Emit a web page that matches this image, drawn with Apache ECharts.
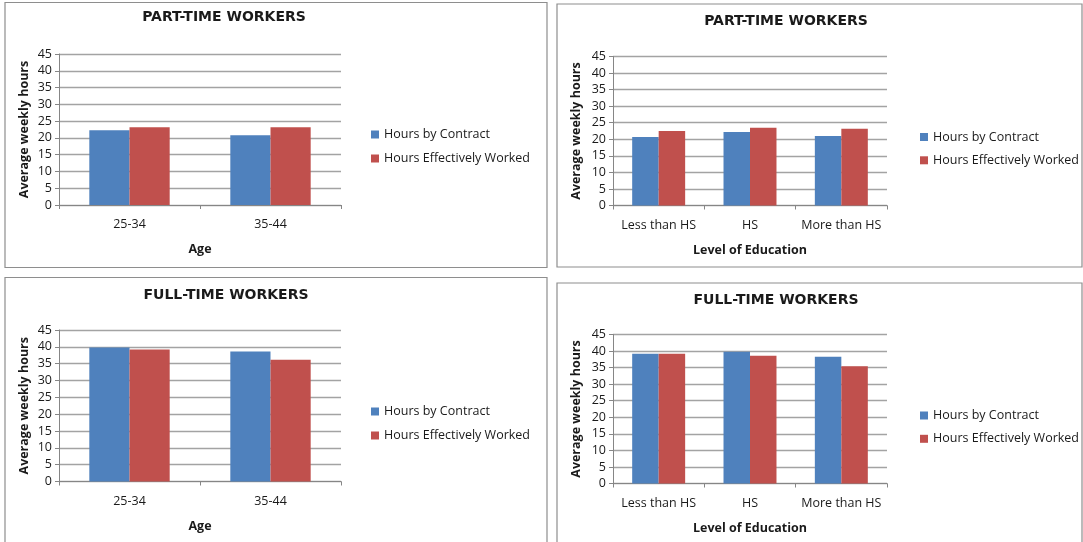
<!DOCTYPE html>
<html>
<head>
<meta charset="utf-8">
<title>Average weekly hours</title>
<script src="https://cdn.jsdelivr.net/npm/echarts@6/dist/echarts.min.js"></script>
<style>
  html, body { margin: 0; padding: 0; background: #ffffff; }
  #chart { width: 1083px; height: 542px; }
</style>
</head>
<body>
<div id="chart"></div>
<script>
// Categories
const ageGroups = ['25-34', '35-44'];
const educationLevels = ['Less than HS', 'HS', 'More than HS'];
const seriesNames = ['Hours by Contract', 'Hours Effectively Worked'];

// Value axis ticks
const yMin = 0;
const yMax = 45;
const yStep = 5;

// Part-time workers by age
const partTimeAgeContract = [22.3, 20.8];
const partTimeAgeWorked = [23.2, 23.2];
// Part-time workers by level of education
const partTimeEduContract = [20.7, 22.2, 21.0];
const partTimeEduWorked = [22.5, 23.5, 23.2];
// Full-time workers by age
const fullTimeAgeContract = [39.8, 38.6];
const fullTimeAgeWorked = [39.2, 36.2];
// Full-time workers by level of education
const fullTimeEduContract = [39.2, 39.8, 38.3];
const fullTimeEduWorked = [39.2, 38.6, 35.4];

const BLUE = '#4F81BD';
const RED = '#C0504D';
const TEXT = '#1a1a1a';
const FONT = '"Open Sans", "Liberation Sans", sans-serif';
const TITLE_FONT = '"DejaVu Sans", "Open Sans", sans-serif';

// Layout of the four chart panels
const panels = [
  { title: 'PART-TIME WORKERS', cats: ageGroups, axisName: 'Age',
    contract: partTimeAgeContract, worked: partTimeAgeWorked,
    box: [5, 2.5, 542, 265], grid: { left: 59, top: 54, width: 282, height: 151 },
    titleX: 224, titleY: 10, legendX: 371, legendY: 127.5, legendGap: 10,
    nameGapY: 28, catGap: '43%' },
  { title: 'PART-TIME WORKERS', cats: educationLevels, axisName: 'Level of Education',
    contract: partTimeEduContract, worked: partTimeEduWorked,
    box: [557, 4, 525, 263], grid: { left: 613, top: 56.5, width: 274, height: 149 },
    titleX: 786, titleY: 14.5, legendX: 920, legendY: 130, legendGap: 9.3,
    nameGapY: 30, catGap: '42%' },
  { title: 'FULL-TIME WORKERS', cats: ageGroups, axisName: 'Age',
    contract: fullTimeAgeContract, worked: fullTimeAgeWorked,
    box: [5, 277.5, 542, 280], grid: { left: 59, top: 330, width: 282, height: 151.5 },
    titleX: 226, titleY: 288, legendX: 371, legendY: 404.5, legendGap: 10,
    nameGapY: 28, catGap: '43%' },
  { title: 'FULL-TIME WORKERS', cats: educationLevels, axisName: 'Level of Education',
    contract: fullTimeEduContract, worked: fullTimeEduWorked,
    box: [557, 283, 525, 280], grid: { left: 613, top: 334.5, width: 274, height: 149 },
    titleX: 776, titleY: 293, legendX: 920, legendY: 408.5, legendGap: 9.3,
    nameGapY: 30, catGap: '42%' }
];

const option = {
  animation: false,
  backgroundColor: '#ffffff',
  textStyle: { fontFamily: FONT },
  graphic: panels.map(p => ({
    type: 'rect',
    shape: { x: p.box[0], y: p.box[1], width: p.box[2], height: p.box[3] },
    style: { fill: 'none', stroke: '#8e8e8e', lineWidth: 1.2 },
    silent: true,
    z: -1
  })),
  title: panels.map(p => ({
    text: p.title,
    left: p.titleX,
    top: p.titleY,
    textAlign: 'center',
    padding: 0,
    textStyle: { fontFamily: TITLE_FONT, fontSize: 14, fontWeight: 'bold', color: TEXT }
  })),
  legend: panels.map(p => ({
    data: seriesNames,
    orient: 'vertical',
    left: p.legendX,
    top: p.legendY,
    padding: 0,
    itemGap: p.legendGap,
    itemWidth: 8,
    itemHeight: 8,
    icon: 'rect',
    selectedMode: false,
    textStyle: { fontFamily: FONT, fontSize: 12.5, color: TEXT, lineHeight: 14 }
  })),
  grid: panels.map(p => Object.assign({ containLabel: false }, p.grid)),
  xAxis: panels.map((p, i) => ({
    type: 'category',
    gridIndex: i,
    data: p.cats,
    name: p.axisName,
    nameLocation: 'middle',
    nameGap: 38,
    nameTextStyle: { fontFamily: FONT, fontSize: 12.5, fontWeight: 'bold', color: TEXT },
    axisLine: { show: true, lineStyle: { color: '#868686', width: 1 } },
    axisTick: { show: true, length: 4, lineStyle: { color: '#868686' } },
    axisLabel: { interval: 0, margin: 13, fontSize: 12.5, color: TEXT, fontFamily: FONT },
    splitLine: { show: false }
  })),
  yAxis: panels.map((p, i) => ({
    type: 'value',
    gridIndex: i,
    min: yMin,
    max: yMax,
    interval: yStep,
    name: 'Average weekly hours',
    nameLocation: 'middle',
    nameGap: p.nameGapY,
    nameTextStyle: { fontFamily: FONT, fontSize: 12.5, fontWeight: 'bold', color: TEXT },
    axisLine: { show: true, lineStyle: { color: '#868686', width: 1 } },
    axisTick: { show: true, length: 4, lineStyle: { color: '#868686' } },
    axisLabel: { margin: 7, fontSize: 12.5, color: TEXT, fontFamily: FONT },
    splitLine: { show: true, lineStyle: { color: '#a3a3a3', width: 1.3 } }
  })),
  series: panels.flatMap((p, i) => [
    { name: seriesNames[0], type: 'bar', xAxisIndex: i, yAxisIndex: i,
      data: p.contract, itemStyle: { color: BLUE },
      barGap: '0%', barCategoryGap: p.catGap },
    { name: seriesNames[1], type: 'bar', xAxisIndex: i, yAxisIndex: i,
      data: p.worked, itemStyle: { color: RED },
      barGap: '0%', barCategoryGap: p.catGap }
  ])
};

const chart = echarts.init(document.getElementById('chart'), null, { renderer: 'canvas' });
chart.setOption(option);
</script>
</body>
</html>
